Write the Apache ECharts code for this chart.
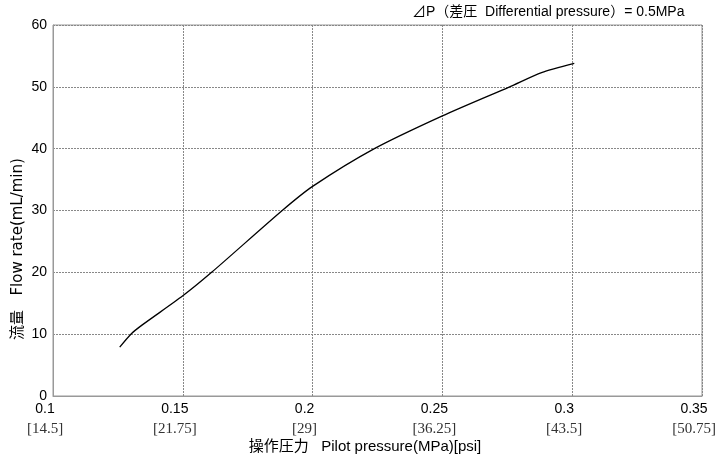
<!DOCTYPE html>
<html>
<head>
<meta charset="utf-8">
<script src="https://cdn.jsdelivr.net/npm/echarts@6/dist/echarts.min.js"></script>
<style>html,body{margin:0;padding:0;background:#fff;}#c{width:727px;height:460px;}</style>
</head>
<body>
<div id="c"></div>
<script>
// Data
const pilotPressure = [0.1257, 0.1300, 0.1344, 0.1500, 0.1611, 0.1883, 0.2000, 0.2238, 0.2500, 0.2759, 0.2882, 0.3008];
const flowRate      = [7.9,    10.0,   11.5,   16.2,   20.0,   30.0,   33.9,   40.0,   45.3,   50.0,   52.3,   53.8];
const xTickValues = [0.1, 0.15, 0.2, 0.25, 0.3, 0.35];
const psiLabels = ['[14.5]', '[21.75]', '[29]', '[36.25]', '[43.5]', '[50.75]'];

const chart = echarts.init(document.getElementById('c'), null, {renderer: 'canvas'});
const sans = 'Liberation Sans, Arial, Noto Sans CJK JP, sans-serif';
chart.setOption({
  animation: false,
  backgroundColor: '#fff',
  grid: {left: 53, right: 25, top: 25, bottom: 64, show: true, borderColor: '#999', borderWidth: 1, backgroundColor: 'transparent'},
  xAxis: {
    type: 'value', min: 0.1, max: 0.35, interval: 0.05,
    axisLine: {show: true, lineStyle: {color: '#999', width: 1}},
    axisTick: {show: false},
    splitLine: {show: true, lineStyle: {color: '#888', type: [2, 1], width: 1}},
    axisLabel: {
      margin: 3,
      padding: [0, 16, 0, 0],
      formatter: function (v) {
        let i = xTickValues.findIndex(t => Math.abs(t - v) < 1e-6);
        if (i < 0) return '';
        return '{a|' + xTickValues[i] + '}\n{b|' + psiLabels[i] + '}';
      },
      rich: {
        a: {fontFamily: sans, fontSize: 14, color: '#000', lineHeight: 20},
        b: {fontFamily: 'Liberation Serif, DejaVu Serif, serif', fontSize: 15, color: '#333', lineHeight: 20}
      }
    }
  },
  yAxis: {
    type: 'value', min: 0, max: 60, interval: 10,
    axisLine: {show: true, lineStyle: {color: '#999', width: 1}},
    axisTick: {show: false},
    splitLine: {show: true, lineStyle: {color: '#888', type: [2, 1], width: 1}},
    axisLabel: {margin: 6, fontFamily: sans, fontSize: 14, color: '#000'}
  },
  graphic: [
    {type: 'text', left: 412, top: 5, style: {text: '⊿P（差圧  Differential pressure）= 0.5MPa', font: '14px ' + sans, fill: '#000'}},
    {type: 'text', x: 365, y: 447, style: {text: '操作圧力   Pilot pressure(MPa)[psi]', font: '15px ' + sans, fill: '#000', align: 'center', verticalAlign: 'middle'}},
    {type: 'text', x: 18, y: 249, rotation: Math.PI / 2, style: {text: '流量   Flow rate(mL/min)', font: '15px DejaVu Sans, Noto Sans CJK JP, sans-serif', fill: '#000', align: 'center', verticalAlign: 'middle'}}
  ],
  series: [{
    type: 'line',
    data: pilotPressure.map((x, i) => [x, flowRate[i]]),
    showSymbol: false,
    smooth: 0.25,
    lineStyle: {color: '#000', width: 1.3}
  }]
});
</script>
</body>
</html>
